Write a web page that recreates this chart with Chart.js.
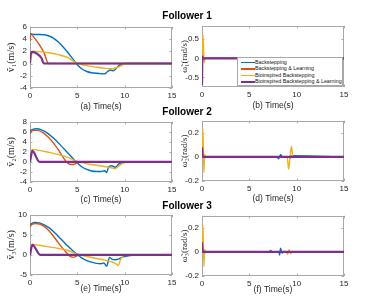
<!DOCTYPE html>
<html><head><meta charset="utf-8">
<script src="https://cdn.jsdelivr.net/npm/chart.js@4.4.1/dist/chart.umd.min.js"></script>
<style>
body{margin:0;background:#fff;width:374px;height:299px;overflow:hidden;position:relative;font-family:'Liberation Sans',Arial,sans-serif}
canvas{position:absolute}
.ttl{position:absolute;font-weight:bold;font-size:10px;color:#000;white-space:nowrap;transform:translate(-50%,-50%)}
#legend{position:absolute;left:237px;top:57px;width:104px;height:27px;border:1px solid #a8a8a8;background:#fff;font-size:5.3px;color:#111}
.li{position:absolute;left:0;height:7px;width:104px}
.li span.ln{position:absolute;left:3px;top:3px;width:14px;height:1.5px}
.li span.tx{position:absolute;left:17px;top:0;line-height:7px;white-space:nowrap}
</style></head><body>
<canvas id="c1" width="180" height="93" style="left:0;top:19px"></canvas>
<canvas id="c2" width="180" height="93" style="left:172px;top:18px"></canvas>
<canvas id="c3" width="180" height="91" style="left:0;top:114px"></canvas>
<canvas id="c4" width="180" height="91" style="left:172px;top:113px"></canvas>
<canvas id="c5" width="180" height="87" style="left:0;top:207px"></canvas>
<canvas id="c6" width="180" height="87" style="left:172px;top:208px"></canvas>
<div class="ttl" style="left:187px;top:15px">Follower 1</div>
<div class="ttl" style="left:187px;top:111px">Follower 2</div>
<div class="ttl" style="left:187px;top:205px">Follower 3</div>
<div id="legend"></div>
<script>
// ---------- categories / labels ----------
const seriesNames = ['Backstepping', 'Backstepping & Learning', 'Bioinspired Backstepping', 'Bioinspired Backstepping & Learning'];
const seriesColors = ['#0072BD', '#D95319', '#EDB120', '#7E2F8E'];
const xTicks = [0, 5, 10, 15];
const v1Ticks = [-4, -2, 0, 2, 4, 6];
const v2Ticks = [-4, -2, 0, 2, 4, 6, 8];
const v3Ticks = [-5, 0, 5, 10];
const w1Ticks = [-0.5, 0, 0.5];
const w2Ticks = [-0.2, 0, 0.2];
const w3Ticks = [-0.2, 0, 0.2];

// ---------- Follower 1 : linear velocity ----------
const f1v_blue_t = [0,0.5,1,1.5,2,2.5,3,3.5,4,4.5,5,5.5,6,6.5,7,7.5,7.9,8.2,8.5,8.8,9.1,9.4,9.7,10,15];
const f1v_blue   = [4.9,4.75,4.75,4.7,4.5,4.1,3.5,2.7,1.8,0.8,-0.2,-0.9,-1.3,-1.5,-1.6,-1.65,-1.7,-1.3,-1.05,-1.2,-0.8,-0.3,-0.1,0,0];
const f1v_orange_t = [0,0.1,0.5,1.0,1.5,1.95,15];
const f1v_orange   = [3.7,4.8,4.1,3.05,1.7,0,0];
const f1v_yellow_t = [0,0.3,1,2,3,4,4.6,5.3,6,7,8,8.6,9.2,9.7,10.2,15];
const f1v_yellow   = [0,2.0,1.95,1.75,1.45,0.95,0.4,-0.1,-0.35,-0.6,-0.8,-0.85,-0.65,-0.3,0,0];
const f1v_purple_t = [0,0.05,0.2,0.5,0.9,1.2,1.48,15];
const f1v_purple   = [0,1.3,1.9,1.8,1.4,0.9,0,0];

// ---------- Follower 1 : angular velocity ----------
const f1w_blue_t = [0,0.08,0.2,0.35,8,8.3,8.6,9,9.3,15];
const f1w_blue   = [0,0.03,-0.02,0,0,0.02,-0.01,0.015,0,0];
const f1w_orange_t = [0,0.08,0.2,0.35,15];
const f1w_orange   = [0,0.05,-0.03,0,0];
const f1w_yellow_t = [0,0.1,0.16,0.22,0.35,15];
const f1w_yellow   = [0,0.62,0.3,-0.12,0,0];
const f1w_purple_t = [0,0.04,0.1,15];
const f1w_purple   = [-0.7,0.05,0,0];

// ---------- Follower 2 : linear velocity ----------
const f2v_blue_t = [0,0.3,0.7,1.2,1.8,2.5,3.2,3.8,4.4,4.9,5.5,6,6.5,7,7.5,7.9,8.1,8.3,8.6,9,9.4,9.8,10.2,15];
const f2v_blue   = [6.2,6.5,6.6,6.4,5.8,4.7,3.4,2.2,1.0,0,-1.0,-1.5,-1.8,-1.9,-1.9,-1.75,-2.1,-1.0,-0.75,-1.05,-0.4,-0.1,0,0];
const f2v_orange_t = [0,0.1,0.4,0.8,1.4,2,2.5,3,3.4,3.8,4.2,4.6,4.9,5.2,15];
const f2v_orange   = [5.6,6.0,6.3,6.3,5.8,4.8,3.7,2.4,1.2,0.1,-0.45,-0.5,-0.3,0,0];
const f2v_yellow_t = [0,0.2,1,2,3,4,5,6,7,8,8.6,9,9.4,9.8,10.3,15];
const f2v_yellow   = [0,2.5,2.3,1.9,1.45,0.9,0.1,-0.35,-0.65,-0.95,-1.15,-1.35,-0.8,-0.3,0,0];
const f2v_purple_t = [0,0.25,1.0,15];
const f2v_purple   = [0,2.2,0,0];

// ---------- Follower 2 : angular velocity ----------
const f2w_blue_t = [0,0.08,0.2,0.35,7.9,8.1,8.3,8.5,9.2,9.35,9.5,15];
const f2w_blue   = [0,0.02,-0.01,0,0,-0.015,0.02,0,0,-0.01,0.01,0];
const f2w_orange_t = [0,0.08,0.2,0.35,15];
const f2w_orange   = [0,0.04,-0.02,0,0];
const f2w_yellow_t = [0,0.1,0.2,0.28,0.4,9.0,9.15,9.3,9.45,9.6,15];
const f2w_yellow   = [0,0.23,-0.13,0.02,0,0,-0.1,0.0,0.09,0,0];
const f2w_purple_t = [0,0.05,0.12,15];
const f2w_purple   = [0.08,0.02,0,0];

// ---------- Follower 3 : linear velocity ----------
const f3v_blue_t = [0,0.5,1,1.5,2,2.5,3,3.5,4,4.5,5,5.5,6,6.5,7,7.5,7.8,8.1,8.4,8.7,9,9.4,9.8,10.4,11,15];
const f3v_blue   = [7.6,8.1,8.0,7.5,6.8,5.8,4.6,3.4,2.2,1.1,0.1,-0.8,-1.4,-1.8,-2.1,-2.2,-2.0,-2.8,-0.6,-1.1,-1.2,-1.0,-0.5,-0.2,0,0];
const f3v_orange_t = [0,0.2,0.6,1,1.5,2,2.5,3,3.5,4,4.3,4.6,4.9,5.2,15];
const f3v_orange   = [7.0,7.6,7.8,7.7,7.1,6.0,4.6,3.0,1.5,0.2,-0.4,-0.55,-0.3,0,0];
const f3v_yellow_t = [0,0.2,1,2,3,4,5,6,7,8,8.6,9.0,9.3,9.6,10,15];
const f3v_yellow   = [0,2.6,2.4,2.0,1.6,1.1,0.2,-0.4,-0.9,-1.35,-1.7,-2.1,-2.6,-1.0,0,0];
const f3v_purple_t = [0,0.25,1.1,15];
const f3v_purple   = [0,2.5,0,0];

// ---------- Follower 3 : angular velocity ----------
const f3w_blue_t = [0,0.08,0.2,0.35,7.1,7.25,7.4,8.1,8.2,8.3,8.45,8.6,15];
const f3w_blue   = [0,0.02,-0.01,0,0,0.012,0,0,-0.025,0.03,-0.01,0,0];
const f3w_orange_t = [0,0.08,0.2,0.35,15];
const f3w_orange   = [0,0.04,-0.02,0,0];
const f3w_yellow_t = [0,0.1,0.2,0.28,0.4,8.9,9.05,9.2,9.35,9.5,15];
const f3w_yellow   = [0,0.22,-0.12,0.02,0,0,-0.02,0.02,-0.015,0,0];
const f3w_purple_t = [0,0.05,0.12,15];
const f3w_purple   = [0.08,0.02,0,0];

// ---------- drawing ----------
const TXT = '#262626';
const boxPlugin = {
  id: 'box',
  beforeDatasetsDraw(chart) {
    const {ctx, chartArea: a, scales: {x, y}} = chart;
    ctx.save();
    ctx.strokeStyle = '#a8a8a8';
    ctx.lineWidth = 1;
    ctx.strokeRect(Math.round(a.left) + 0.5, Math.round(a.top) + 0.5, Math.round(a.right - a.left) - 1, Math.round(a.bottom - a.top) - 1);
    ctx.beginPath();
    const L = 2.5;
    x.ticks.forEach(t => {
      const p = Math.round(x.getPixelForValue(t.value)) + 0.5;
      ctx.moveTo(p, a.bottom); ctx.lineTo(p, a.bottom - L);
      ctx.moveTo(p, a.top); ctx.lineTo(p, a.top + L);
    });
    y.ticks.forEach(t => {
      const p = Math.round(y.getPixelForValue(t.value)) + 0.5;
      ctx.moveTo(a.left, p); ctx.lineTo(a.left + L, p);
      ctx.moveTo(a.right, p); ctx.lineTo(a.right - L, p);
    });
    ctx.stroke();
    ctx.restore();
  }
};

function pts(t, v) { return t.map((x, i) => ({x: x, y: v[i]})); }

function makeChart(id, series, yMin, yMax, yTicks, yTitle, xTitle, xH, yTitlePad, yTitleSize) {
  const datasets = series.map((s, i) => ({
    label: seriesNames[i],
    data: pts(s[0], s[1]),
    borderColor: seriesColors[i],
    backgroundColor: seriesColors[i],
    borderWidth: i === 3 ? 2.2 : 1.4,
    pointRadius: 0,
    cubicInterpolationMode: 'monotone',
    order: 4 - i
  }));
  new Chart(document.getElementById(id), {
    type: 'line',
    data: {datasets},
    plugins: [boxPlugin],
    options: {
      responsive: false, animation: false, devicePixelRatio: 1,
      layout: {padding: {top: 5, right: 8, left: 0, bottom: 0}},
      plugins: {legend: {display: false}, tooltip: {enabled: false}},
      scales: {
        x: {
          type: 'linear', min: 0, max: 15,
          afterBuildTicks: s => { s.ticks = xTicks.map(v => ({value: v})); },
          afterFit: s => { s.height = xH; },
          grid: {display: false, drawTicks: false}, border: {display: false},
          ticks: {padding: 3, autoSkip: false, color: TXT, font: {size: 8, family: 'Liberation Sans'}, maxRotation: 0},
          title: {display: true, text: xTitle, color: TXT, padding: {top: 0, bottom: 0}, font: {size: 8.5, family: 'Liberation Sans'}}
        },
        y: {
          type: 'linear', min: yMin, max: yMax,
          afterBuildTicks: s => { s.ticks = yTicks.map(v => ({value: v})); },
          afterFit: s => { s.width = 30; },
          grid: {display: false, drawTicks: false}, border: {display: false},
          ticks: {padding: 3, autoSkip: false, color: TXT, font: {size: 8, family: 'Liberation Sans'}},
          title: {display: true, text: yTitle, color: TXT, padding: {top: yTitlePad, bottom: 0}, font: {size: yTitleSize, family: "'Liberation Serif','DejaVu Serif'"}}
        }
      }
    }
  });
}

makeChart('c1', [[f1v_blue_t, f1v_blue], [f1v_orange_t, f1v_orange], [f1v_yellow_t, f1v_yellow], [f1v_purple_t, f1v_purple]],
  -4, 6, v1Ticks, 'ṽ\u2081(m/s)', '(a) Time(s)', 24, 5.8, 10);
makeChart('c2', [[f1w_blue_t, f1w_blue], [f1w_orange_t, f1w_orange], [f1w_yellow_t, f1w_yellow], [f1w_purple_t, f1w_purple]],
  -0.75, 0.85, w1Ticks, 'ω\u0303\u2081(rad/s)', '(b) Time(s)', 24, 7.6, 9);
makeChart('c3', [[f2v_blue_t, f2v_blue], [f2v_orange_t, f2v_orange], [f2v_yellow_t, f2v_yellow], [f2v_purple_t, f2v_purple]],
  -4, 8, v2Ticks, 'ṽ\u2082(m/s)', '(c) Time(s)', 23, 5.8, 10);
makeChart('c4', [[f2w_blue_t, f2w_blue], [f2w_orange_t, f2w_orange], [f2w_yellow_t, f2w_yellow], [f2w_purple_t, f2w_purple]],
  -0.2, 0.3, w2Ticks, 'ω\u0303\u2082(rad/s)', '(d) Time(s)', 23, 7.6, 9);
makeChart('c5', [[f3v_blue_t, f3v_blue], [f3v_orange_t, f3v_orange], [f3v_yellow_t, f3v_yellow], [f3v_purple_t, f3v_purple]],
  -5, 10, v3Ticks, 'ṽ\u2083(m/s)', '(e) Time(s)', 19, 5.8, 10);
makeChart('c6', [[f3w_blue_t, f3w_blue], [f3w_orange_t, f3w_orange], [f3w_yellow_t, f3w_yellow], [f3w_purple_t, f3w_purple]],
  -0.2, 0.3, w3Ticks, 'ω\u0303\u2083(rad/s)', '(f) Time(s)', 19, 7.6, 9);

// legend (HTML, panel b)
const lg = document.getElementById('legend');
seriesNames.forEach((n, i) => {
  const d = document.createElement('div');
  d.className = 'li';
  d.style.top = (i * 6.6 + 0.5) + 'px';
  d.innerHTML = '<span class="ln" style="background:' + seriesColors[i] + '"></span><span class="tx"></span>';
  d.querySelector('.tx').textContent = n;
  lg.appendChild(d);
});
</script>
</body></html>
